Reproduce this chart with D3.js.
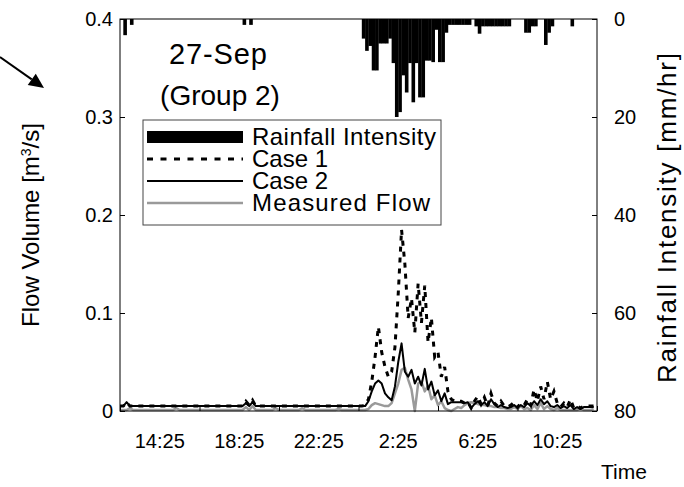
<!DOCTYPE html>
<html>
<head>
<meta charset="utf-8">
<script src="https://cdn.jsdelivr.net/npm/d3@7"></script>
<style>
  html, body { margin: 0; padding: 0; background: #fff; }
  svg { display: block; font-family: "Liberation Sans", Arial, sans-serif; }
</style>
</head>
<body>
<svg id="chart" width="684" height="487"></svg>
<script>
// Time step of every series: 10 minutes, starting at 14:25 (hours since start = i / 6)
const stepMinutes = 10;

// Rainfall intensity [mm/hr], one value per 10-minute step
const rainIntensity = [
  0, 3.3, 0, 1.2, 0, 0, 0, 0, 0, 0, 0, 0,
  0, 0, 0, 0, 0, 0, 0, 0, 0, 0, 0, 0,
  0, 0, 0, 0, 0, 0, 0, 0, 0, 0, 0, 0,
  0, 1.2, 0, 1.2, 0, 0, 0, 0, 0, 0, 0, 0,
  0, 0, 0, 0, 0, 0, 0, 0, 0, 0, 0, 0,
  0, 0, 0, 0, 0, 0, 0, 0, 0, 0, 0, 0,
  0, 4, 6.5, 5.5, 10.5, 10.5, 5, 5, 5, 4, 9, 20,
  19, 11.5, 15, 9, 17, 9, 16, 16, 8.5, 8.5, 8.8, 2.2,
  8.8, 8.8, 2.8, 1.2, 1.2, 1.2, 1.2, 1.2, 1.2, 1.2, 0, 1.5,
  3, 1.5, 1.5, 1.5, 1.5, 1.5, 1.5, 1.5, 1.5, 1.5, 0, 0,
  0, 0, 2.8, 2.8, 1.5, 1.5, 0, 0, 5.3, 2.8, 1.5, 0,
  0, 0, 0, 0, 1.5, 0, 0, 0, 0, 0, 0, 0
];

// Simulated flow, Case 1 [m3/s]
const case1Flow = [
  .005, .005, .009, .005, .005, .005, .005, .005, .005, .005, .005, .005,
  .005, .005, .005, .005, .005, .005, .005, .005, .005, .005, .005, .005,
  .005, .005, .005, .005, .005, .005, .005, .005, .005, .005, .005, .005,
  .005, .005, .010, .006, .011, .005, .005, .005, .005, .005, .005, .005,
  .005, .005, .005, .005, .005, .005, .005, .005, .005, .005, .005, .005,
  .005, .005, .005, .005, .005, .005, .005, .005, .005, .005, .005, .005,
  .005, .005, .006, .012, .030, .055, .086, .060, .045, .035, .040, .065,
  .120, .185, .150, .095, .115, .080, .130, .090, .128, .070, .095, .055,
  .060, .035, .045, .020, .012, .010, .010, .010, .008, .009, .003, .010,
  .015, .007, .014, .005, .018, .008, .005, .010, .005, .004, .006, .009,
  .004, .008, .006, .012, .006, .022, .010, .025, .012, .030, .012, .020,
  .008, .004, .008, .004, .012, .003, .005, .003, .005, .005, .005, .005
];

// Simulated flow, Case 2 [m3/s]
const case2Flow = [
  .005, .005, .009, .005, .005, .005, .005, .005, .005, .005, .005, .005,
  .005, .005, .005, .005, .005, .005, .005, .005, .005, .005, .005, .005,
  .005, .005, .005, .005, .005, .005, .005, .005, .005, .005, .005, .005,
  .005, .005, .008, .005, .009, .005, .005, .005, .005, .005, .005, .005,
  .005, .005, .005, .005, .005, .005, .005, .005, .005, .005, .005, .005,
  .005, .005, .005, .005, .005, .005, .005, .005, .005, .005, .005, .005,
  .005, .005, .005, .010, .020, .028, .031, .028, .018, .014, .011, .025,
  .050, .069, .040, .035, .042, .028, .035, .026, .043, .022, .030, .016,
  .021, .010, .018, .007, .009, .009, .009, .009, .008, .009, .003, .007,
  .010, .006, .009, .005, .012, .007, .004, .006, .004, .003, .004, .006,
  .003, .006, .004, .008, .005, .010, .006, .012, .007, .010, .005, .004,
  .006, .003, .005, .003, .006, .002, .004, .002, .004, .004, .004, .004
];

// Measured flow [m3/s]
const measuredFlow = [
  .001, .001, .001, .003, .001, .001, .001, .001, .001, .001, .001, .001,
  .001, .001, .001, .001, .001, .003, .001, .001, .001, .001, .001, .001,
  .001, .001, .001, .001, .001, .001, .001, .001, .001, .001, .001, .001,
  .001, .001, .004, .001, .005, .001, .001, .001, .001, .001, .001, .003,
  .001, .001, .001, .001, .001, .001, .001, .003, .001, .001, .001, .001,
  .001, .001, .001, .001, .001, .001, .002, .001, .001, .001, .001, .001,
  .001, .001, .001, .002, .006, .008, .007, .006, .005, .005, .008, .018,
  .028, .042, .044, .032, .022, .000, .028, .030, .020, .026, .012, .016,
  .006, .010, .003, .001, .000, .002, .004, .003, .006, .008, .009, .008,
  .007, .006, .006, .005, .005, .004, .004, .003, .003, .002, .002, .004,
  .002, .005, .002, .003, .001, .006, .002, .008, .002, .005, .002, .001,
  .003, .001, .001, .001, .001, .001, .001, .003, .001, .001, .001, .002
];

// Axis labels
const timeLabels = ["14:25", "18:25", "22:25", "2:25", "6:25", "10:25"];
const flowTicks = [0, 0.1, 0.2, 0.3, 0.4];
const rainTicks = [0, 20, 40, 60, 80];

const legendItems = ["Rainfall Intensity", "Case 1", "Case 2", "Measured Flow"];

const svg = d3.select("#chart");
const plot = { left: 120, right: 597, top: 19, bottom: 411 };

const x = d3.scaleLinear().domain([0, 24]).range([plot.left, plot.right]);
const yFlow = d3.scaleLinear().domain([0, 0.4]).range([plot.bottom, plot.top]);
const yRain = d3.scaleLinear().domain([0, 80]).range([plot.top, plot.bottom]);
const hoursAt = i => i * stepMinutes / 60;

// Plot background
svg.append("rect")
  .attr("x", plot.left).attr("y", plot.top)
  .attr("width", plot.right - plot.left).attr("height", plot.bottom - plot.top)
  .attr("fill", "#fff");

// Rainfall bars hang from the top edge (reversed right axis)
svg.append("g").selectAll("rect")
  .data(rainIntensity.map((v, i) => ({ v, i })).filter(d => d.v > 0))
  .join("rect")
  .attr("x", d => x(hoursAt(d.i)))
  .attr("width", d => x(hoursAt(d.i + 1)) - x(hoursAt(d.i)) + 0.3)
  .attr("y", yRain(0))
  .attr("height", d => yRain(d.v) - yRain(0))
  .attr("fill", "#000");

// Flow lines
const line = d3.line().x((d, i) => x(hoursAt(i))).y(d => yFlow(d));

svg.append("path").datum(measuredFlow)
  .attr("d", line).attr("fill", "none")
  .attr("stroke", "#9a9a9a").attr("stroke-width", 2.5).attr("stroke-linejoin", "round");

svg.append("path").datum(case2Flow)
  .attr("d", line).attr("fill", "none")
  .attr("stroke", "#000").attr("stroke-width", 2).attr("stroke-linejoin", "round");

svg.append("path").datum(case1Flow)
  .attr("d", line).attr("fill", "none")
  .attr("stroke", "#000").attr("stroke-width", 3).attr("stroke-dasharray", "5,6");

// Frame
svg.append("rect")
  .attr("x", plot.left).attr("y", plot.top)
  .attr("width", plot.right - plot.left).attr("height", plot.bottom - plot.top)
  .attr("fill", "none").attr("stroke", "#000").attr("stroke-width", 1);

const tickFont = 20;

// Left axis
const leftAxis = d3.axisLeft(yFlow).tickValues(flowTicks)
  .tickFormat(d => d === 0 ? "0" : d3.format(".1f")(d))
  .tickSizeInner(-5).tickSizeOuter(0).tickPadding(7);
svg.append("g").attr("transform", `translate(${plot.left},0)`).call(leftAxis)
  .call(g => g.select(".domain").remove())
  .call(g => g.selectAll("text").attr("font-size", tickFont).attr("font-family", "Liberation Sans, Arial, sans-serif").attr("fill", "#000"));

// Right axis
const rightAxis = d3.axisRight(yRain).tickValues(rainTicks)
  .tickSizeInner(-5).tickSizeOuter(0).tickPadding(17);
svg.append("g").attr("transform", `translate(${plot.right},0)`).call(rightAxis)
  .call(g => g.select(".domain").remove())
  .call(g => g.selectAll("text").attr("font-size", tickFont).attr("font-family", "Liberation Sans, Arial, sans-serif").attr("fill", "#000"));

// Bottom axis: tick marks every 4 hours, labels centred between them
const bottomAxis = d3.axisBottom(x).tickValues(d3.range(0, 25, 4))
  .tickFormat("").tickSizeInner(-5).tickSizeOuter(0);
svg.append("g").attr("transform", `translate(0,${plot.bottom})`).call(bottomAxis)
  .call(g => g.select(".domain").remove());

svg.append("g").selectAll("text")
  .data(timeLabels)
  .join("text")
  .attr("x", (d, i) => x(i * 4 + 2))
  .attr("y", plot.bottom + 37)
  .attr("text-anchor", "middle")
  .attr("font-size", tickFont)
  .text(d => d);

// Axis titles
svg.append("text")
  .attr("x", 624).attr("y", 479)
  .attr("text-anchor", "middle").attr("font-size", 21)
  .text("Time");

const yTitle = svg.append("text")
  .attr("transform", "translate(39,225) rotate(-90)")
  .attr("text-anchor", "middle").attr("font-size", 24);
yTitle.append("tspan").text("Flow Volume [m");
yTitle.append("tspan").attr("baseline-shift", "super").attr("font-size", 14).text("3");
yTitle.append("tspan").text("/s]");

svg.append("text")
  .attr("transform", "translate(676,218) rotate(-90)")
  .attr("text-anchor", "middle").attr("font-size", 26)
  .attr("textLength", 330)
  .text("Rainfall Intensity [mm/hr]");

// Event title
svg.append("text").attr("x", 218).attr("y", 64)
  .attr("text-anchor", "middle").attr("font-size", 29)
  .attr("textLength", 98)
  .text("27-Sep");
svg.append("text").attr("x", 220).attr("y", 105)
  .attr("text-anchor", "middle").attr("font-size", 28)
  .text("(Group 2)");

// Legend
const legendWidths = [184, null, null, 178];
const lg = svg.append("g");
lg.append("rect")
  .attr("x", 143).attr("y", 120).attr("width", 298).attr("height", 105)
  .attr("fill", "#fff").attr("stroke", "#444").attr("stroke-width", 1);
const rowY = i => 137 + i * 22;
lg.append("rect").attr("x", 147).attr("y", rowY(0) - 6).attr("width", 96).attr("height", 12).attr("fill", "#000");
lg.append("line").attr("x1", 147).attr("x2", 243).attr("y1", rowY(1)).attr("y2", rowY(1))
  .attr("stroke", "#000").attr("stroke-width", 3).attr("stroke-dasharray", "6,7.5");
lg.append("line").attr("x1", 147).attr("x2", 243).attr("y1", rowY(2)).attr("y2", rowY(2))
  .attr("stroke", "#000").attr("stroke-width", 2);
lg.append("line").attr("x1", 147).attr("x2", 243).attr("y1", rowY(3)).attr("y2", rowY(3))
  .attr("stroke", "#9a9a9a").attr("stroke-width", 2.5);
lg.selectAll("text.item").data(legendItems).join("text")
  .attr("class", "item")
  .attr("x", 252).attr("y", (d, i) => rowY(i) + 8)
  .attr("font-size", 24)
  .attr("textLength", (d, i) => legendWidths[i])
  .text(d => d);

// Pointer arrow at the top left
const arrowFrom = [0, 57], arrowTo = [44, 88];
const ang = Math.atan2(arrowTo[1] - arrowFrom[1], arrowTo[0] - arrowFrom[0]);
const headLen = 15, headHalf = 7;
const base = [arrowTo[0] - headLen * Math.cos(ang), arrowTo[1] - headLen * Math.sin(ang)];
svg.append("line")
  .attr("x1", arrowFrom[0]).attr("y1", arrowFrom[1])
  .attr("x2", base[0]).attr("y2", base[1])
  .attr("stroke", "#000").attr("stroke-width", 2);
svg.append("polygon")
  .attr("points", [
    arrowTo,
    [base[0] + headHalf * Math.sin(ang), base[1] - headHalf * Math.cos(ang)],
    [base[0] - headHalf * Math.sin(ang), base[1] + headHalf * Math.cos(ang)]
  ].map(p => p.join(",")).join(" "))
  .attr("fill", "#000");
</script>
</body>
</html>
